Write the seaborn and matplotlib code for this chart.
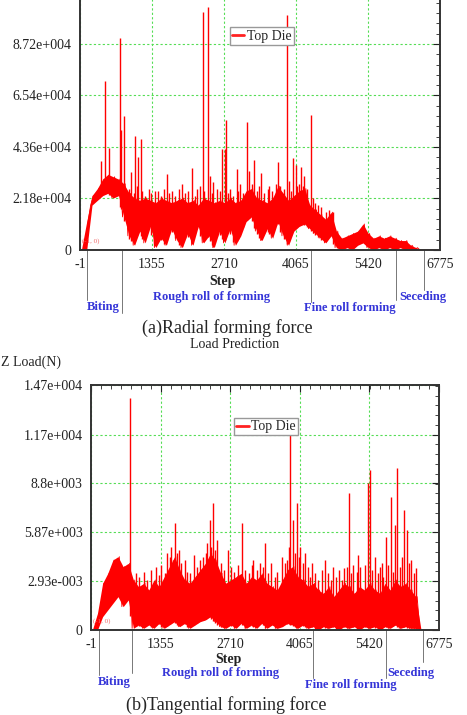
import numpy as np
import pandas as pd
import matplotlib
matplotlib.use("Agg")
import matplotlib.pyplot as plt
from matplotlib.lines import Line2D
from matplotlib.ticker import AutoMinorLocator
import seaborn as sns

sns.set_style("white")
plt.rcParams["font.family"] = ["Liberation Serif", "DejaVu Serif"]

# step positions at which the local low of the trace was read (highs read 50 steps later)
grid_steps = np.arange(0, 6800, 100)

# (a) radial forming force, kN
radial_lo = [0, 0, 19, 21, 23, 24, 22, 23, 14, 6,
             2, 8, 3, 10, 1, 5, 2, 9, 4, 1,
             7, 2, 10, 3, 6, 1, 8, 3, 9, 2,
             6, 12, 14, 8, 4, 9, 5, 12, 6, 2,
             8, 10, 11, 9, 7, 5, 3, 6, 1, 0,
             1, 0, 2, 3, 1, 0, 1, 0, 1, 0,
             1, 0, 0, 0, 0, 0, 0, 0]
radial_hi = [0, 12, 23, 26, 30, 32, 31, 30, 28, 24,
             22, 21, 22, 21, 20, 22, 21, 20, 21, 22,
             20, 21, 19, 22, 21, 20, 21, 20, 22, 20,
             21, 25, 26, 22, 21, 20, 22, 27, 24, 21,
             23, 25, 26, 19, 17, 15, 13, 16, 8, 5,
             6, 7, 8, 11, 7, 5, 6, 5, 6, 5,
             4, 4, 2, 1, 0, 0, 0, 0]
radial_spike_steps = [395, 465, 546, 753, 765, 822, 960, 1035, 1090, 1142,
                      1415, 1632, 1910, 2107, 2260, 2309, 2409, 2440, 2503, 2666,
                      2720, 2748, 2948, 3010, 3137, 3180, 3275, 3406, 3560, 3720,
                      3890, 3930, 4015, 4065, 4160, 4216, 4341]
radial_spike_kN = [37.7, 71.5, 43.2, 89.7, 50.8, 56.7, 33.0, 48.3, 39.4, 46.9,
                   25.0, 32.2, 28.0, 34.7, 27.0, 100.6, 103.0, 31.3, 28.8, 42.7,
                   42.7, 55.0, 34.3, 28.0, 54.3, 33.5, 38.1, 32.6, 27.0, 37.4,
                   99.5, 29.0, 39.1, 35.8, 35.3, 31.3, 57.1]
radial_small_steps = [930, 1010, 1070, 1170, 1230, 1290, 1340, 1470, 1530, 1580,
                      1670, 1730, 1780, 1860, 1970, 2030, 2170, 2210, 2340, 2480,
                      2570, 2630, 2780, 2830, 2880, 2970, 3060, 3230, 3330, 3370,
                      3460, 3530, 3620, 3680, 3770, 3830, 3970, 4090, 4130, 4190,
                      4270, 4380, 4430, 4480, 4530, 4620, 4680, 4770]
radial_small_kN = [26, 24, 27, 25, 23, 26, 24, 25, 23, 26,
                   24, 25, 23, 26, 24, 25, 23, 26, 25, 24,
                   26, 25, 24, 26, 23, 25, 24, 28, 25, 27,
                   24, 26, 25, 28, 27, 26, 25, 27, 28, 27,
                   26, 22, 20, 19, 18, 16, 17, 16]

# (b) tangential forming force, kN
tang_lo = [0, 0, 0.8, 1.2, 1.6, 2.0, 1.4, 1.8, 0.1, 0.3,
           0.1, 0.3, 0.1, 0.4, 0.1, 0.3, 0.5, 0.2, 0.4, 0.1,
           0.3, 0.5, 0.6, 0.8, 0.5, 0.2, 0.1, 0.3, 0.1, 0.4,
           0.1, 0.3, 0.1, 0.4, 0.1, 0.3, 0.1, 0.2, 0.4, 0.3,
           0.1, 0.3, 0.1, 0.2, 0.0, 0.2, 0.1, 0.2, 0.0, 0.2,
           0.1, 0.2, 0.0, 0.2, 0.1, 0.2, 0.0, 0.2, 0.1, 0.3,
           0.1, 0.2, 0.1, 0.1, 0, 0, 0, 0]
tang_hi = [0, 1.0, 2.8, 3.4, 4.2, 4.4, 3.8, 4.0, 3.0, 2.6,
           2.8, 2.4, 3.0, 2.6, 3.2, 3.8, 4.4, 3.6, 3.0, 2.8,
           3.2, 3.6, 4.0, 4.6, 4.2, 3.4, 2.8, 3.0, 3.2, 3.4,
           2.8, 3.2, 3.0, 3.4, 2.8, 2.6, 2.4, 3.0, 3.6, 3.8,
           3.2, 3.0, 2.6, 2.8, 2.4, 2.2, 2.6, 2.0, 2.4, 2.8,
           2.6, 2.2, 2.6, 2.4, 2.8, 2.4, 2.2, 2.8, 2.4, 3.0,
           2.6, 2.8, 2.4, 2.0, 0, 0, 0, 0]
tang_spike_steps = [758, 1260, 1480, 1560, 1633, 1710, 1820, 2010, 2260, 2313,
                    2378, 2460, 2660, 2942, 3160, 3395, 3510, 3710, 3855, 3880,
                    3935, 4005, 4070, 4160, 4310, 4560, 4710, 4990, 5016, 5110,
                    5203, 5390, 5424, 5527, 5660, 5748, 5832, 5910, 5962, 6091,
                    6160, 6230, 6332]
tang_spike_kN = [13.95, 3.8, 4.6, 5.0, 6.4, 4.8, 4.2, 4.5, 5.2, 6.6,
                 7.6, 5.4, 4.8, 6.4, 4.2, 5.2, 4.0, 4.4, 5.0, 11.96,
                 6.6, 7.6, 5.0, 4.6, 4.0, 4.2, 3.8, 3.8, 8.2, 3.9,
                 4.5, 8.8, 9.6, 4.4, 4.0, 5.6, 8.0, 6.3, 9.7, 7.2,
                 6.0, 4.2, 3.7]
tang_small_steps = [870, 930, 1030, 1090, 1170, 1320, 1370, 1440, 1530, 1590,
                    1670, 1760, 1870, 1930, 2070, 2130, 2180, 2230, 2340, 2420,
                    2530, 2580, 2730, 2780, 2870, 2990, 3070, 3130, 3230, 3280,
                    3340, 3440, 3580, 3630, 3780, 3820, 3970, 4040, 4120, 4230,
                    4270, 4370, 4420, 4490, 4620, 4670, 4770, 4830, 4880, 4930,
                    5060, 5170, 5240, 5330, 5470, 5580, 5620, 5690, 5790, 5870,
                    6020, 6060, 6190, 6280]
tang_small_kN = [3.4, 3.2, 3.5, 3.0, 3.6, 3.3, 3.9, 3.4, 4.4, 4.2,
                 4.6, 4.0, 3.5, 3.4, 3.8, 4.2, 4.4, 4.6, 5.0, 4.8,
                 4.0, 3.6, 3.8, 3.5, 3.9, 3.6, 3.4, 3.9, 3.6, 4.0,
                 3.8, 3.4, 3.2, 3.5, 4.0, 4.2, 4.6, 4.4, 4.0, 3.8,
                 3.2, 3.4, 3.0, 3.6, 3.4, 3.0, 3.2, 3.6, 3.0, 3.7,
                 3.4, 3.5, 3.8, 3.9, 3.6, 3.4, 3.8, 3.2, 3.9, 3.5,
                 3.8, 4.4, 4.0, 3.4]

x_ticks = [-1, 1355, 2710, 4065, 5420, 6775]
radial_yticks = [0, 21.8, 43.6, 65.4, 87.2]
radial_ylabels = ["0", "2.18e+004", "4.36e+004", "6.54e+004", "8.72e+004"]
tang_yticks = [0, 2.93, 5.87, 8.8, 11.7, 14.7]
tang_ylabels = ["0", "2.93e-003", "5.87e+003", "8.8e+003", "1.17e+004", "1.47e+004"]

phase_labels = ["Biting", "Rough roll of forming", "Fine roll forming", "Seceding"]
radial_marks = [130, 790, 4347, 5947, 6474]
tang_marks = [155, 800, 4316, 5735, 6456]

W, H = 467, 715
fig = plt.figure(figsize=(W / 100, H / 100), dpi=100)


def px(x, y):
    return x / W, 1 - y / H


def panel(rect, lo, hi, sp_s, sp_v, yticks, ylabels, ytop):
    ax = fig.add_axes(rect)
    # dense band between the local lows and highs
    ax.fill_between(grid_steps + 25, lo, hi, color="#ff0000", lw=0)
    xs = np.concatenate([grid_steps, grid_steps + 50])
    ys = np.concatenate([lo, hi])
    order = np.argsort(xs)
    df = pd.DataFrame({"Step": xs[order], "Load": ys[order]})
    sns.lineplot(data=df, x="Step", y="Load", ax=ax, color="#ff0000", lw=0.6,
                 estimator=None, sort=False)
    # isolated peaks rising out of the band
    base = np.interp(sp_s, grid_steps, lo)
    ax.vlines(sp_s, base, sp_v, color="#ff0000", lw=1.0)
    ax.set_xlim(-1, 6775)
    ax.set_ylim(0, ytop)
    ax.set_xticks(x_ticks)
    ax.set_xticklabels([str(t) for t in x_ticks])
    ax.set_yticks(yticks)
    ax.set_yticklabels(ylabels)
    ax.xaxis.set_minor_locator(AutoMinorLocator(7))
    ax.yaxis.set_minor_locator(AutoMinorLocator(5))
    ax.set_xlabel("")
    ax.set_ylabel("")
    ax.grid(True, which="major", color="#55dd55", lw=0.8, ls=(0, (2, 2)))
    ax.tick_params(which="both", direction="in", top=True, right=True,
                   labelsize=10, pad=6, colors="#222222")
    ax.tick_params(which="major", length=5)
    ax.tick_params(which="minor", length=3)
    for sp in ax.spines.values():
        sp.set_color("#333333")
        sp.set_linewidth(1.4)
    ax.text(0.006, 0.03, "(-1, 0)", transform=ax.transAxes, fontsize=5,
            color="#ee6666")
    handle = Line2D([], [], color="#ff2222", lw=2)
    return ax, handle


# (a) radial
ax1, h1 = panel([80 / W, 1 - 250 / H, 360 / W, 257.5 / H], radial_lo, radial_hi,
                radial_spike_steps + radial_small_steps,
                radial_spike_kN + radial_small_kN,
                radial_yticks, radial_ylabels, 109)
ax1.legend([h1], ["Top Die"], loc="center", bbox_to_anchor=(0.505, 0.831),
           fontsize=10, handlelength=0.9, handletextpad=0.2, borderpad=0.15,
           fancybox=False, framealpha=1, edgecolor="#999999")

# (b) tangential
ax2, h2 = panel([91 / W, 1 - 630 / H, 348 / W, 245 / H], tang_lo, tang_hi,
                tang_spike_steps + tang_small_steps,
                tang_spike_kN + tang_small_kN,
                tang_yticks, tang_ylabels, 14.7)
ax2.legend([h2], ["Top Die"], loc="center", bbox_to_anchor=(0.503, 0.829),
           fontsize=10, handlelength=0.9, handletextpad=0.2, borderpad=0.15,
           fancybox=False, framealpha=1, edgecolor="#999999")

# phase marker lines below each axis
trans1 = ax1.get_xaxis_transform()
for s, yend in zip(radial_marks, [300, 313, 302, 300, 290]):
    ax1.plot([s, s], [0, (250 - yend) / 257.5], color="#777777", lw=0.7,
             transform=trans1, clip_on=False)
trans2 = ax2.get_xaxis_transform()
for s, yend in zip(tang_marks, [675, 673, 678, 678, 662]):
    ax2.plot([s, s], [0, (630 - yend) / 245], color="#777777", lw=0.7,
             transform=trans2, clip_on=False)

blue = "#3535d8"
top_pos = [(87, 307), (153, 297), (304, 308), (399, 297)]
bot_pos = [(98, 682), (162, 673), (305, 685), (387, 673)]
for lab, (x, y) in zip(phase_labels, top_pos):
    fig.text(*px(x, y), lab, color=blue, fontsize=9, fontweight="bold",
             ha="left", va="center")
for lab, (x, y) in zip(phase_labels, bot_pos):
    fig.text(*px(x, y), lab, color=blue, fontsize=9, fontweight="bold",
             ha="left", va="center")

fig.text(*px(223, 281), "Step", fontsize=10, fontweight="bold", ha="center",
         va="center", color="#222222")
fig.text(*px(228, 659), "Step", fontsize=10, fontweight="bold", ha="center",
         va="center", color="#222222")
fig.text(*px(227, 328), "(a)Radial forming force", fontsize=13, ha="center",
         va="center")
fig.text(*px(235, 344), "Load Prediction", fontsize=10, ha="center", va="center",
         color="#222222")
fig.text(*px(1, 362), "Z Load(N)", fontsize=10, ha="left", va="center",
         color="#222222")
fig.text(*px(226, 705), "(b)Tangential forming force", fontsize=13,
         ha="center", va="center")

fig.savefig("out.png", dpi=100)
